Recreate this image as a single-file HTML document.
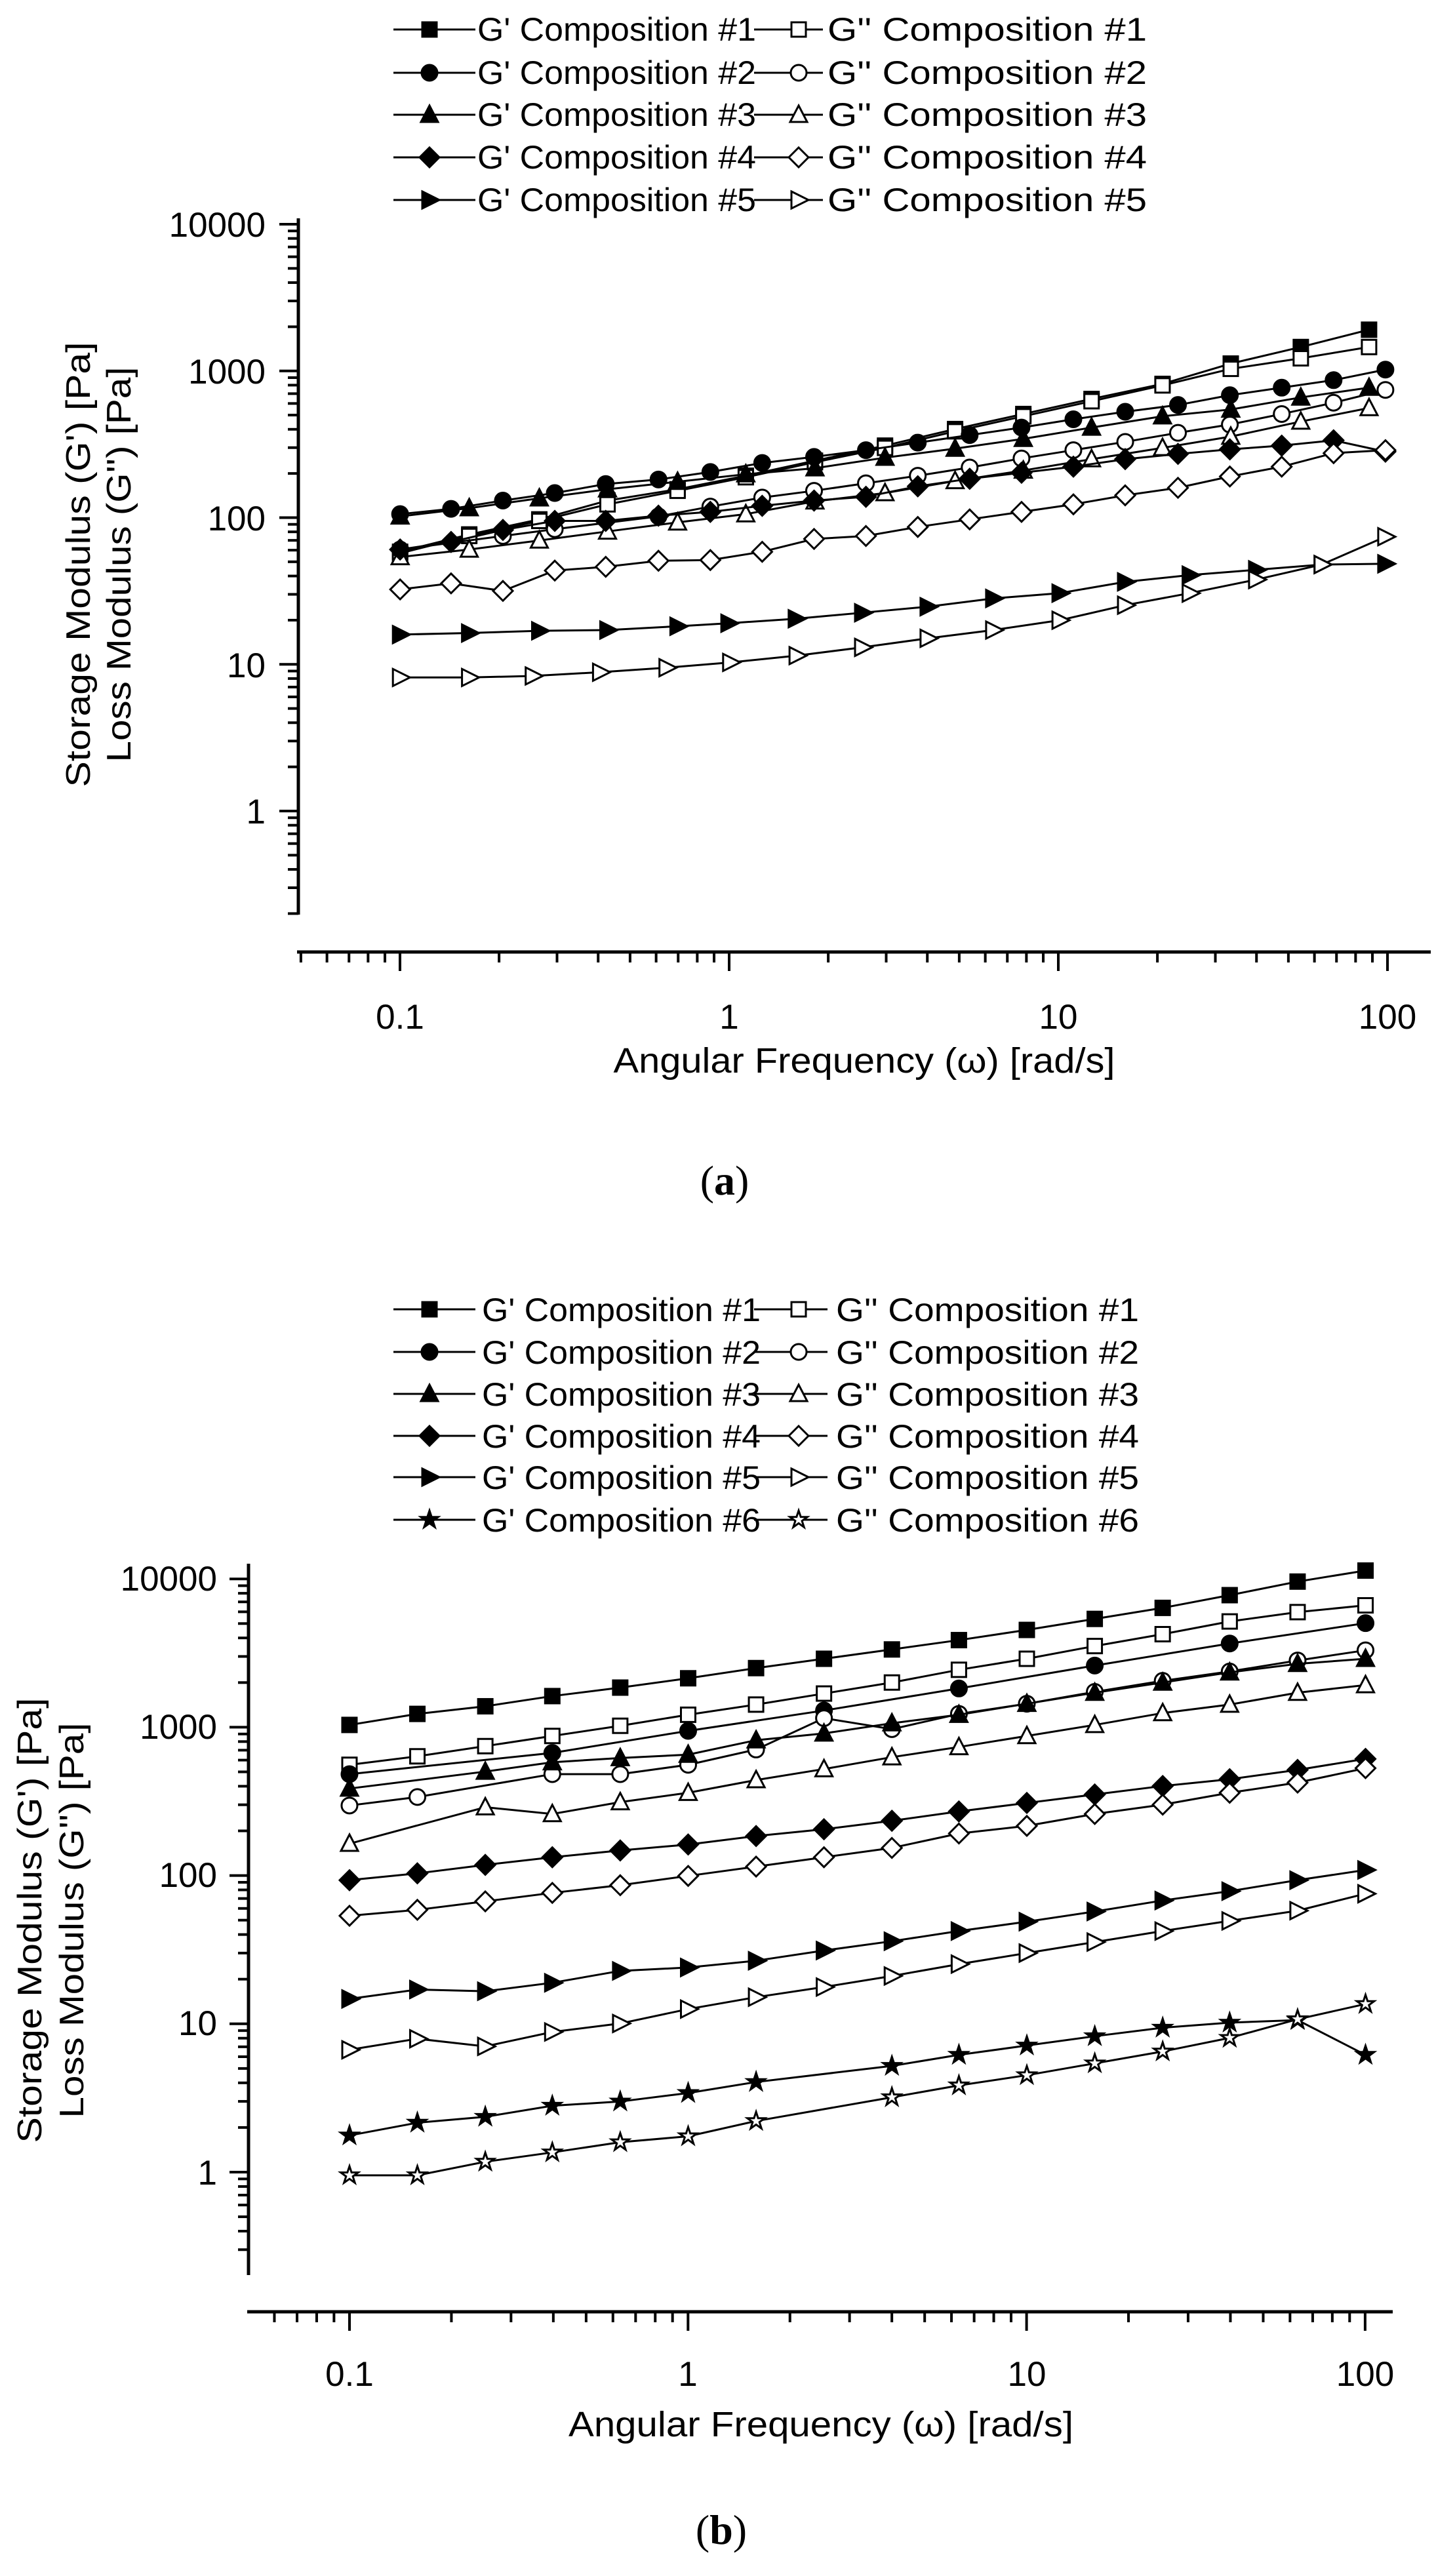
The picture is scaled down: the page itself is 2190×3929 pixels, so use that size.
<!DOCTYPE html>
<html><head><meta charset="utf-8"><style>
html,body{margin:0;padding:0;background:#fff;}
svg{display:block;}
text{font-family:"Liberation Sans",Arial,sans-serif;fill:#000;}
</style></head><body>
<svg id="s" width="2190" height="3929" viewBox="0 0 2190 3929" xmlns="http://www.w3.org/2000/svg">
<rect width="2190" height="3929" fill="#fff"/>
<g id="g"></g>
<g font-size="53" text-anchor="end">
<text x="405" y="361">10000</text><text x="405" y="585">1000</text><text x="405" y="809">100</text><text x="405" y="1033">10</text><text x="405" y="1256">1</text>
</g>
<g font-size="53" text-anchor="middle">
<text x="610" y="1569">0.1</text><text x="1112" y="1569">1</text><text x="1614" y="1569">10</text><text x="2116" y="1569">100</text>
</g>
<text x="1318" y="1636" font-size="54" text-anchor="middle" textLength="765" lengthAdjust="spacingAndGlyphs">Angular Frequency (ω) [rad/s]</text>
<text transform="translate(120,861) rotate(-90)" font-size="52" text-anchor="middle" dominant-baseline="central" textLength="679" lengthAdjust="spacingAndGlyphs">Storage Modulus (G') [Pa]</text>
<text transform="translate(182,861) rotate(-90)" font-size="52" text-anchor="middle" dominant-baseline="central" textLength="603" lengthAdjust="spacingAndGlyphs">Loss Modulus (G'') [Pa]</text>
<g font-size="50">
<text x="728" y="62" textLength="425" lengthAdjust="spacingAndGlyphs">G' Composition #1</text>
<text x="728" y="128" textLength="425" lengthAdjust="spacingAndGlyphs">G' Composition #2</text>
<text x="728" y="192" textLength="425" lengthAdjust="spacingAndGlyphs">G' Composition #3</text>
<text x="728" y="257" textLength="425" lengthAdjust="spacingAndGlyphs">G' Composition #4</text>
<text x="728" y="322" textLength="425" lengthAdjust="spacingAndGlyphs">G' Composition #5</text>
<text x="1262" y="62" textLength="487" lengthAdjust="spacingAndGlyphs">G'' Composition #1</text>
<text x="1262" y="128" textLength="487" lengthAdjust="spacingAndGlyphs">G'' Composition #2</text>
<text x="1262" y="192" textLength="487" lengthAdjust="spacingAndGlyphs">G'' Composition #3</text>
<text x="1262" y="257" textLength="487" lengthAdjust="spacingAndGlyphs">G'' Composition #4</text>
<text x="1262" y="322" textLength="487" lengthAdjust="spacingAndGlyphs">G'' Composition #5</text>
</g>
<text x="1105" y="1822" font-size="64" text-anchor="middle" style='font-family:"Liberation Serif",serif'>(<tspan font-weight="bold">a</tspan>)</text>
<g font-size="53" text-anchor="end">
<text x="331" y="2426">10000</text><text x="331" y="2652">1000</text><text x="331" y="2878">100</text><text x="331" y="3104">10</text><text x="331" y="3332">1</text>
</g>
<g font-size="53" text-anchor="middle">
<text x="533" y="3639">0.1</text><text x="1049" y="3639">1</text><text x="1566" y="3639">10</text><text x="2082" y="3639">100</text>
</g>
<text x="1252" y="3716" font-size="54" text-anchor="middle" textLength="770" lengthAdjust="spacingAndGlyphs">Angular Frequency (ω) [rad/s]</text>
<text transform="translate(46,2929) rotate(-90)" font-size="52" text-anchor="middle" dominant-baseline="central" textLength="679" lengthAdjust="spacingAndGlyphs">Storage Modulus (G') [Pa]</text>
<text transform="translate(110,2929) rotate(-90)" font-size="52" text-anchor="middle" dominant-baseline="central" textLength="603" lengthAdjust="spacingAndGlyphs">Loss Modulus (G'') [Pa]</text>
<g font-size="50">
<text x="735" y="2015" textLength="425" lengthAdjust="spacingAndGlyphs">G' Composition #1</text>
<text x="735" y="2080" textLength="425" lengthAdjust="spacingAndGlyphs">G' Composition #2</text>
<text x="735" y="2144" textLength="425" lengthAdjust="spacingAndGlyphs">G' Composition #3</text>
<text x="735" y="2208" textLength="425" lengthAdjust="spacingAndGlyphs">G' Composition #4</text>
<text x="735" y="2271" textLength="425" lengthAdjust="spacingAndGlyphs">G' Composition #5</text>
<text x="735" y="2336" textLength="425" lengthAdjust="spacingAndGlyphs">G' Composition #6</text>
<text x="1275" y="2015" textLength="462" lengthAdjust="spacingAndGlyphs">G'' Composition #1</text>
<text x="1275" y="2080" textLength="462" lengthAdjust="spacingAndGlyphs">G'' Composition #2</text>
<text x="1275" y="2144" textLength="462" lengthAdjust="spacingAndGlyphs">G'' Composition #3</text>
<text x="1275" y="2208" textLength="462" lengthAdjust="spacingAndGlyphs">G'' Composition #4</text>
<text x="1275" y="2271" textLength="462" lengthAdjust="spacingAndGlyphs">G'' Composition #5</text>
<text x="1275" y="2336" textLength="462" lengthAdjust="spacingAndGlyphs">G'' Composition #6</text>
</g>
<text x="1100" y="3880" font-size="64" text-anchor="middle" style='font-family:"Liberation Serif",serif'>(<tspan font-weight="bold">b</tspan>)</text>
</svg>
<script>
(function(){
var NS="http://www.w3.org/2000/svg",G=document.getElementById("g");
function el(t,a){var e=document.createElementNS(NS,t);for(var k in a)e.setAttribute(k,a[k]);G.appendChild(e);return e;}
function line(x1,y1,x2,y2,w){el("line",{x1:x1,y1:y1,x2:x2,y2:y2,stroke:"#000","stroke-width":w});}
function marker(type,fill,x,y){
 var f=fill?"#000":"#fff",sw=3,r=12,p;
 var a={fill:f,stroke:"#000","stroke-width":sw};
 if(type=="sq"){a.x=x-r+1;a.y=y-r+1;a.width=2*r-2;a.height=2*r-2;el("rect",a);}
 else if(type=="ci"){a.cx=x;a.cy=y;a.r=r;el("circle",a);}
 else{
  if(type=="tu")p=[[x,y-r-2],[x+r+1,y+r-1],[x-r-1,y+r-1]];
  else if(type=="di")p=[[x,y-r-3],[x+r+3,y],[x,y+r+3],[x-r-3,y]];
  else if(type=="tr")p=[[x-r+1,y-r-1],[x+r+3,y],[x-r+1,y+r+1]];
  else if(type=="st"){p=[];for(var i=0;i<10;i++){var rr=i%2?r*0.45:r+2,an=-Math.PI/2+i*Math.PI/5;p.push([x+rr*Math.cos(an),y+rr*Math.sin(an)]);}}
  a.points=p.map(function(q){return q[0].toFixed(1)+","+q[1].toFixed(1)}).join(" ");
  el("polygon",a);
 }
}
function series(pts,type,fill,tx){
 var P=pts.map(tx);
 el("polyline",{points:P.map(function(q){return q[0]+","+q[1]}).join(" "),fill:"none",stroke:"#000","stroke-width":3});
 P.forEach(function(q){marker(type,fill,q[0],q[1]);});
}
function parse(s){return s.trim().split(/\s+/).map(function(t){var q=t.split("/");return [+q[0],+q[1]];});}
function axes(ax,ay,yTop,yBot,xEnd,ymap,xmap){
 line(ax,yTop,ax,yBot,5);
 line(ax-2,ay,xEnd,ay,5);
 for(var k=-1;k<=4;k++)for(var m=1;m<10;m++){var v=m*Math.pow(10,k);var y=ymap(v);if(y<yTop-1||y>yBot+1)continue;line(ax,y,ax-(m==1?29:16),y,4);}
 for(var k=-2;k<=2;k++)for(var m=1;m<10;m++){var v=m*Math.pow(10,k);var x=xmap(v);if(x<ax-1||x>xEnd+1)continue;line(x,ay,x,ay+(m==1?29:16),4);}
}
var yA=function(v){return 1237-223.75*Math.log10(v)},xA=function(v){return 610+502*(Math.log10(v)+1)};
var yB=function(v){return 3313-226.2*Math.log10(v)},xB=function(v){return 533+516.3*(Math.log10(v)+1)};
axes(455,1452,333,1395,2182,yA,xA);
axes(379,3526,2385,3470,2124,yB,xB);
var TA=function(q){var x=q[0]/0.708;return [610+(x-610)*502/511,q[1]/0.871]};
var TB=function(q){var x=q[0]/0.708;return [533+(x-541)*1549/1563,1900+q[1]/0.773]};
var A=[
["sq",1,"432/733 508/710 585/690 660/665 737/650 812/632 888/612 965/592 1042/570 1117/550 1192/530 1270/510 1345/483 1422/461 1497/438"],
["sq",0,"432/735 508/712 585/692 660/670 737/652 812/634 888/614 965/595 1042/573 1117/553 1192/533 1270/512 1345/490 1422/476 1497/461"],
["ci",1,"432/683 488/676 545/665 602/655 658/643 716/637 773/627 830/615 887/607 944/598 1001/588 1058/578 1115/568 1172/557 1229/547 1287/538 1344/525 1401/515 1458/505 1515/491"],
["ci",0,"432/730 545/712 602/703 716/686 773/673 830/661 887/652 944/642 1001/632 1058/621 1115/609 1172/598 1229/587 1287/575 1344/564 1401/550 1458/535 1515/518"],
["tu",1,"432/686 508/675 585/662 660/650 737/640 812/630 888/622 965/608 1042/596 1117/583 1192/568 1270/553 1345/544 1422/528 1497/515"],
["tu",0,"432/740 508/730 585/718 660/706 737/694 812/683 888/666 965/655 1042/639 1117/625 1192/610 1270/595 1345/580 1422/560 1497/542"],
["di",1,"432/730 488/720 545/704 602/692 658/692 716/685 773/680 830/672 887/665 944/660 1001/646 1058/636 1115/628 1172/620 1229/610 1287/603 1344/597 1401/592 1458/585 1515/600"],
["di",0,"432/783 488/775 545/785 602/758 658/753 716/745 773/744 830/733 887/716 944/712 1001/700 1058/690 1115/680 1172/670 1229/658 1287/648 1344/633 1401/620 1458/602 1515/598"],
["tr",1,"432/843 508/841 585/838 660/837 737/832 793/828 867/822 940/814 1012/806 1084/795 1157/788 1229/773 1300/764 1373/757 1445/750 1515/749"],
["tr",0,"432/900 508/900 578/898 652/893 725/887 795/880 868/871 940/860 1012/848 1084/837 1157/824 1229/804 1300/788 1373/770 1445/750 1515/713"]
];
A.forEach(function(s){series(parse(s[2]),s[0],s[1],TA);});
var B=[
["sq",1,"383/565 457/552 531/543 604/531 678/521 752/510 826/498 900/487 974/476 1047/465 1121/453 1195/440 1269/427 1342/412 1416/396 1490/383"],
["sq",0,"383/612 457/602 531/590 604/578 678/566 752/553 826/541 900/528 974/515 1047/500 1121/487 1195/472 1269/458 1342/443 1416/432 1490/424"],
["ci",1,"383/623 604/598 752/572 900/548 1047/522 1195/495 1342/469 1490/445"],
["ci",0,"383/660 457/650 604/623 678/623 752/612 826/594 900/557 974/570 1047/552 1121/540 1195/526 1269/513 1342/502 1416/489 1490/477"],
["tu",1,"383/640 531/620 604/609 678/604 752/600 826/583 900/575 974/563 1047/553 1121/540 1195/527 1269/515 1342/503 1416/493 1490/487"],
["tu",0,"383/705 531/662 604/670 678/656 752/645 826/630 900/617 974/603 1047/591 1121/578 1195/565 1269/551 1342/541 1416/527 1490/518"],
["di",1,"383/748 457/740 531/730 604/721 678/713 752/706 826/696 900/688 974/678 1047/667 1121/657 1195/647 1269/637 1342/629 1416/618 1490/605"],
["di",0,"383/790 457/783 531/773 604/763 678/754 752/743 826/732 900/721 974/710 1047/693 1121/684 1195/670 1269/659 1342/645 1416/633 1490/616"],
["tr",1,"383/888 457/877 531/879 604/869 678/855 752/851 826/843 900/831 974/820 1047/808 1121/797 1195/785 1269/772 1342/761 1416/748 1490/736"],
["tr",0,"383/948 457/935 531/944 604/927 678/917 752/900 826/886 900/874 974/861 1047/847 1121/834 1195/821 1269/808 1342/796 1416/784 1490/764"],
["st",1,"383/1049 457/1034 531/1027 604/1014 678/1009 752/999 826/986 974/967 1047/954 1121/943 1195/932 1269/922 1342/916 1416/913 1490/954"],
["st",0,"383/1096 457/1096 531/1080 604/1069 678/1057 752/1050 826/1032 974/1004 1047/990 1121/978 1195/964 1269/950 1342/934 1416/912 1490/894"]
];
B.forEach(function(s){series(parse(s[2]),s[0],s[1],TB);});
var types=["sq","ci","tu","di","tr","st"];
var rA=[45,111,175,240,305];
rA.forEach(function(y,i){line(600,y,725,y,3);marker(types[i],1,655,y);line(1150,y,1255,y,3);marker(types[i],0,1218,y);});
var rB=[1997,2062,2126,2190,2253,2318];
rB.forEach(function(y,i){line(600,y,725,y,3);marker(types[i],1,655,y);line(1150,y,1262,y,3);marker(types[i],0,1218,y);});
})();
</script>
</body></html>
